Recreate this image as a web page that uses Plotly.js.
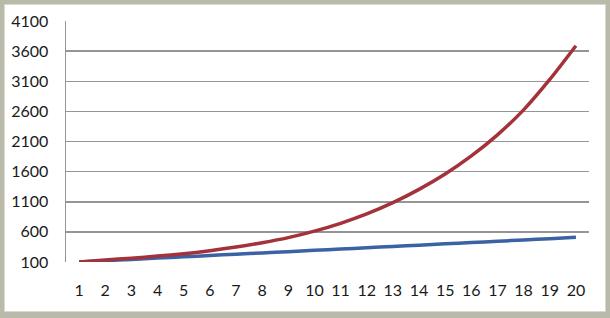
<!DOCTYPE html>
<html>
<head>
<meta charset="utf-8">
<script src="https://cdn.plot.ly/plotly-3.0.1.min.js"></script>
<style>
  html, body { margin: 0; padding: 0; background: #b9baa9; width: 610px; height: 318px; overflow: hidden; }
  #frame { position: absolute; left: 4px; top: 4px; width: 602px; height: 308px; background: #ffffff; box-shadow: inset 0 0 0 1px #d8d8cc; }
  #chart { position: absolute; left: 1px; top: 1px; width: 600px; height: 306px; }
</style>
</head>
<body>
<div id="frame"><div id="chart"></div></div>
<script>
const categories = ["1","2","3","4","5","6","7","8","9","10","11","12","13","14","15","16","17","18","19","20"];
const redValues  = [100, 133, 163, 198, 238, 288, 348, 420, 505, 612, 742, 898, 1085, 1305, 1560, 1860, 2210, 2625, 3130, 3690];
const blueValues = [100, 122, 143, 165, 186, 208, 229, 251, 272, 294, 315, 337, 358, 380, 401, 423, 444, 466, 487, 510];
const yTicks = [100, 600, 1100, 1600, 2100, 2600, 3100, 3600, 4100];

const traces = [
  { x: categories, y: blueValues, type: 'scatter', mode: 'lines',
    line: { color: '#3b62a3', width: 3.5, shape: 'spline', smoothing: 0.8 }, hoverinfo: 'skip' },
  { x: categories, y: redValues, type: 'scatter', mode: 'lines',
    line: { color: '#a3323b', width: 3.5, shape: 'spline', smoothing: 0.8 }, hoverinfo: 'skip' }
];

const layout = {
  width: 600, height: 306,
  margin: { l: 61, r: 16, t: 16, b: 49 },
  paper_bgcolor: '#ffffff', plot_bgcolor: '#ffffff',
  showlegend: false,
  font: { family: 'Lato, Liberation Sans, Arial, sans-serif', size: 16, color: '#1a1a1a' },
  xaxis: {
    type: 'category', range: [-0.5, 19.5],
    showgrid: false, zeroline: false, showline: false,
    ticks: '', ticklabelstandoff: 17,
    tickfont: { family: 'Lato, Liberation Sans, Arial, sans-serif', size: 16, color: '#1a1a1a' }
  },
  yaxis: {
    range: [100, 4100], tickvals: yTicks, ticktext: yTicks.map(String),
    showgrid: true, gridcolor: '#959595', gridwidth: 1.5,
    zeroline: false, showline: true, linecolor: '#959595', linewidth: 1.5,
    ticks: '', ticklabelstandoff: 13,
    tickfont: { family: 'Lato, Liberation Sans, Arial, sans-serif', size: 16, color: '#1a1a1a' }
  }
};

Plotly.newPlot('chart', traces, layout, { displayModeBar: false, staticPlot: true });
</script>
</body>
</html>
